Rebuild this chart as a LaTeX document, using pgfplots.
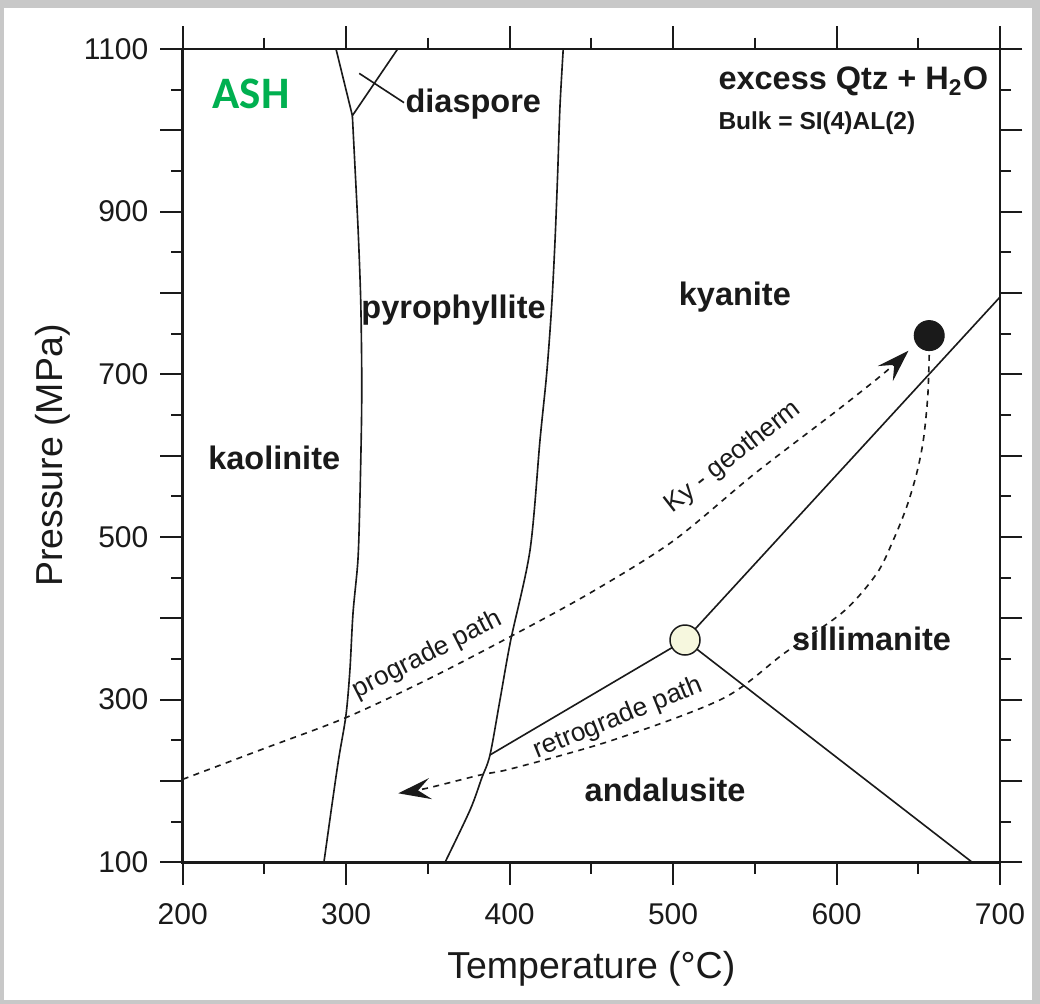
\documentclass[border=0pt]{standalone}
\usepackage{fontspec}
\setmainfont{Liberation Sans}
\newfontfamily\carlito{Carlito}
\usepackage{pgfplots}
\pgfplotsset{compat=1.18}
\usetikzlibrary{arrows.meta}
\definecolor{ashgreen}{RGB}{0,176,80}
\definecolor{ink}{RGB}{26,26,26}
\definecolor{cream}{RGB}{246,247,222}
\definecolor{bggray}{RGB}{200,200,200}
\begin{document}
\begin{tikzpicture}
\fill[bggray] (-73.08pt,-56.68pt) rectangle (342.92pt,344.92pt);
\fill[white] (-71.48pt,-55.08pt) rectangle (339.72pt,341.72pt);
\begin{axis}[
  at={(0,0)}, anchor=south west,
  scale only axis, width=326.92pt, height=325.32pt,
  xmin=200, xmax=700, ymin=100, ymax=1100,
  xtick={200,300,...,700},
  ytick={100,200,...,1100},
  yticklabels={100,,300,,500,,700,,900,,1100},
  minor x tick num=1, minor y tick num=1,
  tick align=outside,
  major tick length=9pt, minor tick length=4.5pt,
  every tick/.append style={ink, line width=0.8pt},
  axis line style={ink, line width=1pt},
  /pgf/number format/assume math mode=true,
  ticklabel style={font=\fontsize{12}{14}\selectfont, text=ink},
  xticklabel style={yshift=-4pt},
  yticklabel style={xshift=-1.2pt},
  xlabel={Temperature (°C)}, ylabel={Pressure (MPa)},
  every axis x label/.style={at={(axis description cs:0.5,0)}, anchor=base, yshift=-46.3pt, font=\fontsize{15}{18}\selectfont, text=ink},
  every axis y label/.style={at={(axis description cs:0,0.5)}, rotate=90, anchor=base, yshift=47.9pt, font=\fontsize{15}{18}\selectfont, text=ink},
  clip=false,
]
% kaolinite / pyrophyllite
\addplot[draw=ink, line width=0.65pt, smooth, no marks] coordinates {
(286.4,100) (292,180.3) (295.6,229.4) (299.9,281.1) (302.3,336.4) (304.2,406.5) (307.2,471.7) (308.4,545.5) (309.4,643.8) (309.5,709) (308.9,791.4) (307.4,873.8) (305.4,955) (303.8,1018)};
% diaspore lines
\addplot[draw=ink, line width=0.65pt, no marks] coordinates {(293.8,1100) (303.8,1018) (331.5,1100)};
\addplot[draw=ink, line width=0.65pt, no marks] coordinates {(308,1070) (335.4,1034)};
% pyrophyllite / Al2SiO5
\addplot[draw=ink, line width=0.65pt, smooth, no marks] coordinates {
(360.5,100) (375.8,164.3) (382.9,203.3) (388,232) (394.1,299.6) (400.7,373.3) (412.5,484) (418.6,619.3) (422.7,701.3) (425.7,783.1) (427.8,865.2) (429.4,947.2) (430.8,1029) (432.8,1100)};
% Ky-And
\addplot[draw=ink, line width=0.65pt, no marks] coordinates {(388,232) (507.3,373.3)};
% Ky-Sill
\addplot[draw=ink, line width=0.65pt, no marks] coordinates {(507.3,373.3) (700,795)};
% And-Sill
\addplot[draw=ink, line width=0.65pt, no marks] coordinates {(507.3,373.3) (683,100)};
% prograde path
\addplot[draw=ink, line width=0.65pt, dash pattern=on 2.4pt off 2.2pt, smooth, no marks, -{Stealth[length=13pt,width=8.5pt,inset=5pt]}] coordinates {
(200,202) (250,240) (300,278) (350,325) (400,377) (450,432) (500,495) (550,578) (600,655) (630,703) (644,729)};
% retrograde path
\addplot[draw=ink, line width=0.65pt, dash pattern=on 2.4pt off 2.2pt, smooth, no marks, -{Stealth[length=13pt,width=8.5pt,inset=5pt]}] coordinates {
(656.7,724) (655.8,672.5) (653.1,619) (649,578) (642.9,537) (634.7,496) (624.6,455) (604.1,408) (568,357) (530.7,301.6) (463.4,250.4) (402.2,215.6) (381.9,207.3) (349.3,191) (331.9,184.8)};
% triple point
\addplot[only marks, mark=*, mark size=6pt, mark options={fill=cream, draw=ink, line width=0.6pt}] coordinates {(507.3,373.3)};
% peak
\addplot[only marks, mark=*, mark size=6pt, mark options={fill=ink, draw=ink}] coordinates {(656.7,747.6)};

\node[anchor=base, font=\bfseries\fontsize{13}{15}\selectfont, text=ink] at (axis cs:256,583.2) {kaolinite};
\node[anchor=base, font=\bfseries\fontsize{13}{15}\selectfont, text=ink] at (axis cs:365.7,768.9) {pyrophyllite};
\node[anchor=base, font=\bfseries\fontsize{13}{15}\selectfont, text=ink] at (axis cs:537.8,785.2) {kyanite};
\node[anchor=base, font=\bfseries\fontsize{13}{15}\selectfont, text=ink] at (axis cs:621.4,361) {sillimanite};
\node[anchor=base, font=\bfseries\fontsize{13}{15}\selectfont, text=ink] at (axis cs:495.1,174.5) {andalusite};
\node[anchor=base, font=\bfseries\fontsize{13}{15}\selectfont, text=ink] at (axis cs:377.8,1021.7) {diaspore};
\node[anchor=base, font=\carlito\bfseries\fontsize{18}{20}\selectfont, text=ashgreen] at (axis cs:241.9,1027.1) {ASH};
\node[anchor=base west, inner sep=0pt, font=\bfseries\fontsize{13}{15}\selectfont, text=ink] at (axis cs:527.5,1049.6) {excess Qtz + H\textsubscript{2}O};
\node[anchor=base west, inner sep=0pt, font=\bfseries\fontsize{9.8}{12}\selectfont, text=ink] at (axis cs:527.5,1000.4) {Bulk = SI(4)AL(2)};
\node[rotate=27, font=\fontsize{10.5}{12}\selectfont, text=ink] at (axis cs:349.6,354.9) {prograde path};
\node[rotate=38, font=\fontsize{10.5}{12}\selectfont, text=ink] at (axis cs:536.7,598.3) {Ky - geotherm};
\node[rotate=22, font=\fontsize{10.5}{12}\selectfont, text=ink] at (axis cs:466.5,277) {retrograde path};
\end{axis}
\end{tikzpicture}
\end{document}
